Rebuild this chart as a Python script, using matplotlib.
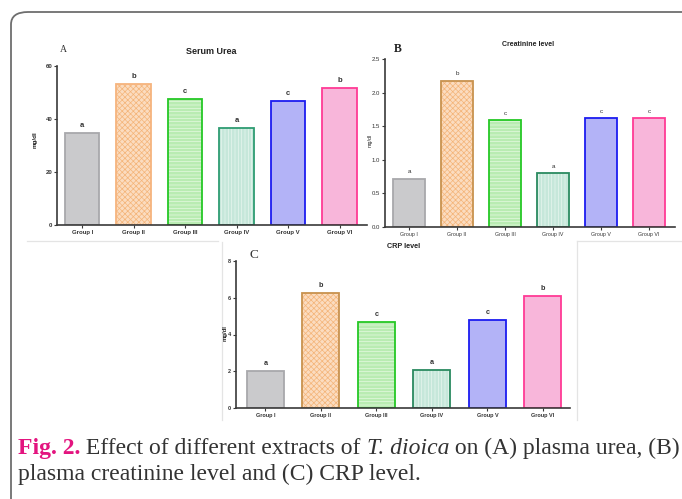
import matplotlib.pyplot as plt
from matplotlib.patches import FancyBboxPatch
from matplotlib.lines import Line2D

groups = ['Group I', 'Group II', 'Group III', 'Group IV', 'Group V', 'Group VI']

urea = [34.6, 53.1, 47.5, 36.5, 46.8, 51.8]
urea_sig = ['a', 'b', 'c', 'a', 'c', 'b']

creat = [0.72, 2.18, 1.59, 0.80, 1.62, 1.62]
creat_sig = ['a', 'b', 'c', 'a', 'c', 'c']

crp = [2.04, 6.27, 4.70, 2.08, 4.80, 6.09]
crp_sig = ['a', 'b', 'c', 'a', 'c', 'b']

fills = ['#cacacc', '#fbdcc0', '#b9ecb2', '#c6e7da', '#b3b3f7', '#f8b6da']
hatch_cols = ['#c3c3c6', '#f4b478', '#e6fae2', '#e8f6ef', '#bcbcf8', '#f9c2e0']
hatches = ['', 'xxxxxx', '-----', '|||||', '', '']
edges_a = ['#a8a8ab', '#f6b47e', '#25c825', '#2e9c72', '#1c1cf0', '#ff3a95']
edges_bc = ['#a8a8ab', '#c8924e', '#25c825', '#2a8a60', '#1c1cf0', '#ff3a95']

plt.rcParams['font.family'] = ['Liberation Sans', 'DejaVu Sans']
plt.rcParams['hatch.linewidth'] = 0.5

W, H = 682, 499
fig = plt.figure(figsize=(W / 100, H / 100), dpi=100)


def px(x0, y0, x1, y1):
    # pixel box -> figure fraction rect
    return [x0 / W, 1 - y1 / H, (x1 - x0) / W, (y1 - y0) / H]


def panel(rect, vals, sig, edges, ymax, step, fmt, xl, tsize, lsize, bold):
    ax = fig.add_axes(rect)
    x = list(range(len(vals)))
    for i in x:
        ax.bar(i, vals[i], 0.67, color=fills[i], edgecolor=hatch_cols[i],
               hatch=hatches[i], linewidth=0)
        ax.bar(i, vals[i], 0.67, fill=False, edgecolor=edges[i], linewidth=1.3)
        ax.text(i, vals[i] + ymax * 0.025, sig[i], ha='center', va='bottom',
                fontsize=lsize, color='#333333',
                fontweight='bold' if bold else 'normal')
    ax.set_xlim(xl)
    ax.set_ylim(0, ymax)
    ticks = [k * step for k in range(int(round(ymax / step)) + 1)]
    ax.set_yticks(ticks)
    ax.set_yticklabels([fmt.format(t) for t in ticks])
    ax.set_xticks(x)
    ax.set_xticklabels(groups)
    for s in ['top', 'right']:
        ax.spines[s].set_visible(False)
    for s in ['left', 'bottom']:
        ax.spines[s].set_color('#3a3a3a')
        ax.spines[s].set_linewidth(1.2)
    ax.tick_params(length=2, width=0.8, color='#3a3a3a', labelsize=tsize,
                   labelcolor='#333333', pad=1.5)
    for t in ax.get_xticklabels() + ax.get_yticklabels():
        t.set_fontweight('bold' if bold else 'normal')
    ax.patch.set_alpha(0)
    return ax


panel(px(57, 66, 367, 225), urea, urea_sig, edges_a, 60, 20, '{:.0f}',
      (-0.49, 5.53), 4.3, 5.5, True)
ax_b = panel(px(385, 59, 675, 227), creat, creat_sig, edges_bc, 2.5, 0.5,
             '{:.1f}', (-0.5, 5.54), 3.8, 4.5, False)
ax_b.tick_params(axis='y', labelsize=4.3)
panel(px(236, 261, 570, 408), crp, crp_sig, edges_bc, 8, 2, '{:.0f}',
      (-0.53, 5.49), 4.0, 5.2, True)

# titles, panel letters, axis labels
fig.text(211 / W, 1 - 52 / H, 'Serum Urea', ha='center', va='center',
         fontsize=6.5, fontweight='bold', color='#222222')
fig.text(528 / W, 1 - 44 / H, 'Creatinine level', ha='center', va='center',
         fontsize=5, fontweight='bold', color='#222222')
fig.text(404 / W, 1 - 246 / H, 'CRP level', ha='center', va='center',
         fontsize=5.2, fontweight='bold', color='#222222')
fig.text(63 / W, 1 - 50 / H, 'A', ha='center', va='center', fontsize=7,
         family='Liberation Serif', color='#333333')
fig.text(398 / W, 1 - 49 / H, 'B', ha='center', va='center', fontsize=8.5,
         family='Liberation Serif', fontweight='bold', color='#222222')
fig.text(254 / W, 1 - 255 / H, 'C', ha='center', va='center', fontsize=9.5,
         family='Liberation Serif', color='#333333')
fig.text(35 / W, 1 - 140 / H, 'mg/dl', ha='center', va='center', rotation=90,
         fontsize=4.5, fontweight='bold', color='#222222')
fig.text(370 / W, 1 - 140 / H, 'mg/dl', ha='center', va='center', rotation=90,
         fontsize=3.8, color='#222222')
fig.text(225 / W, 1 - 333 / H, 'mg/dl', ha='center', va='center', rotation=90,
         fontsize=4.3, fontweight='bold', color='#222222')

# faint edges of the pasted panel images
light = '#e4e4e4'
for xs, ys in [((27, 218), (241, 241)), ((577, 682), (241, 241)),
               ((222, 222), (242, 420)), ((577, 577), (241, 420))]:
    fig.add_artist(Line2D([v / W for v in xs], [1 - v / H for v in ys],
                          color=light, lw=0.9))

# rounded frame
frame = FancyBboxPatch((11 / W, 1 - 560 / H), 700 / W, 548 / H,
                       boxstyle='round,pad=0,rounding_size=0.025',
                       transform=fig.transFigure, fill=False,
                       edgecolor='#6e6e6e', lw=1.3, clip_on=False)
fig.add_artist(frame)

# caption
cap = dict(family='Liberation Serif', fontsize=17, color='#333333')
t = fig.text(18 / W, 1 - 459 / H, 'Fig. 2.', va='bottom', fontweight='bold',
             family='Liberation Serif', fontsize=17, color='#e3147f')
t = plt.annotate(' Effect of different extracts of ', xy=(1, 0), xycoords=t,
                 va='bottom', **cap)
t = plt.annotate('T. dioica', xy=(1, 0), xycoords=t, va='bottom',
                 style='italic', **cap)
plt.annotate(' on (A) plasma urea, (B)', xy=(1, 0), xycoords=t, va='bottom',
             **cap)
fig.text(18 / W, 1 - 485 / H, 'plasma creatinine level and (C) CRP level.',
         va='bottom', **cap)

fig.savefig('out.png', dpi=100)
